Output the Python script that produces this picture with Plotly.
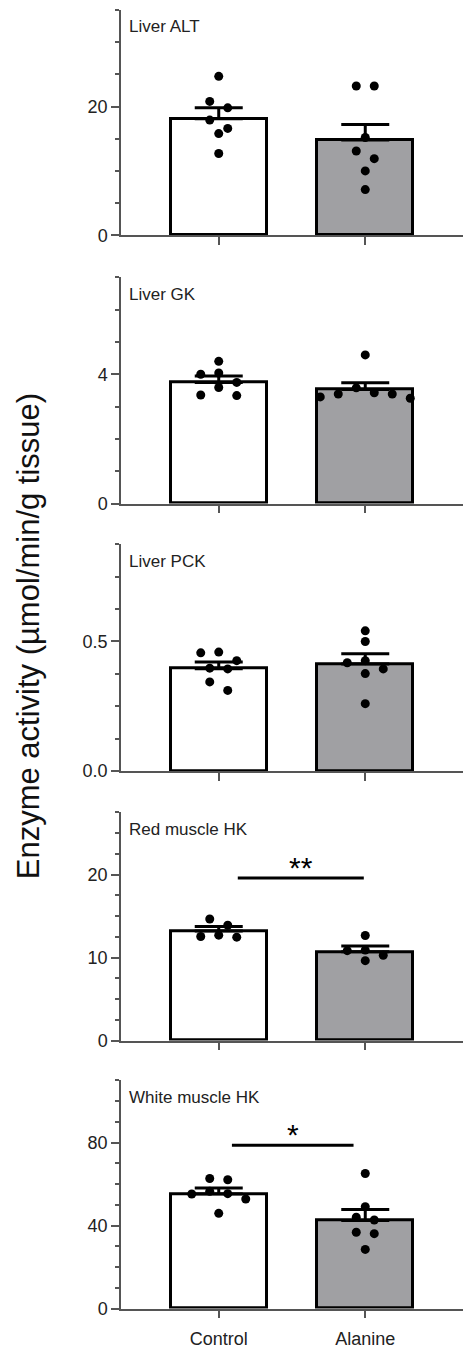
import plotly.graph_objects as go

# ---------------- data ----------------
groups = ["Control", "Alanine"]
panel_titles = ["Liver ALT", "Liver GK", "Liver PCK", "Red muscle HK", "White muscle HK"]

alt_control = [24.7, 20.8, 19.8, 17.9, 16.6, 15.8, 12.7]
alt_alanine = [23.2, 23.2, 15.2, 13.1, 11.9, 10.0, 7.1]
alt_mean = [18.1, 14.8]
alt_sem = [1.7, 2.4]

gk_control = [4.40, 4.04, 4.00, 3.75, 3.59, 3.36, 3.34]
gk_alanine = [4.60, 3.58, 3.43, 3.39, 3.39, 3.30, 3.26]
gk_mean = [3.75, 3.53]
gk_sem = [0.20, 0.21]

pck_control = [0.459, 0.456, 0.426, 0.397, 0.394, 0.344, 0.311]
pck_alanine = [0.541, 0.500, 0.426, 0.418, 0.394, 0.376, 0.260]
pck_mean = [0.395, 0.413]
pck_sem = [0.026, 0.040]

red_control = [14.65, 13.9, 12.7, 12.54, 12.46]
red_alanine = [12.66, 10.9, 10.83, 10.28, 9.63]
red_mean = [13.2, 10.7]
red_sem = [0.55, 0.70]

white_control = [62.7, 62.1, 56.5, 55.4, 55.2, 52.8, 45.9]
white_alanine = [65.1, 49.1, 44.0, 42.7, 36.8, 36.1, 28.5]
white_mean = [55.2, 42.5]
white_sem = [2.9, 5.2]

y_max = [35, 7, 0.875, 27.5, 110]
y_tickvals = [[0, 20], [0, 4], [0, 0.5], [0, 10, 20], [0, 40, 80]]
y_ticktext = [["0", "20"], ["0", "4"], ["0.0", "0.5"], ["0", "10", "20"], ["0", "40", "80"]]
y_minor = [5, 1, 0.125, 2.5, 10]

# significance brackets
sig_panels = [3, 4]
sig_x = [[0.13, 0.99], [0.09, 0.92]]
sig_y = [19.6, 78.7]
sig_text = ["**", "*"]

y_title = "Enzyme activity (µmol/min/g tissue)"

points = [
    [alt_control, alt_alanine],
    [gk_control, gk_alanine],
    [pck_control, pck_alanine],
    [red_control, red_alanine],
    [white_control, white_alanine],
]
means = [alt_mean, gk_mean, pck_mean, red_mean, white_mean]
sems = [alt_sem, gk_sem, pck_sem, red_sem, white_sem]

# ---------------- layout geometry ----------------
W, H = 466, 1353
plot_left, plot_right = 121, 463
panel_px = [(10, 237), (279.3, 507.3), (548.3, 776.7), (818.3, 1048.3), (1088.3, 1318.3)]
x_range = [-0.667, 1.667]
x_ppu = (plot_right - plot_left) / (x_range[1] - x_range[0])

FONT = "Liberation Sans, Arial, sans-serif"
AX = "#555555"
BAR_COLORS = ["#ffffff", "#a0a0a3"]
DOT = 9.0


def swarm_offsets(values, y_ppu, diam=DOT, row_px=10.5):
    """Column-scatter dodge: group vertically overlapping points into rows
    and spread each row symmetrically around the category centre."""
    order = sorted(range(len(values)), key=lambda i: -values[i])
    rows = []
    for i in order:
        if rows and (values[rows[-1][0]] - values[i]) * y_ppu < row_px:
            rows[-1].append(i)
        else:
            rows.append([i])
    offs = [0.0] * len(values)
    for row in rows:
        n = len(row)
        slots = sorted([k - (n - 1) / 2 for k in range(n)], key=lambda s: (abs(s), s))
        for i, s in zip(row, slots):
            offs[i] = s * 2 * diam / x_ppu
    return offs


fig = go.Figure()
layout = {}
annotations = []

for p in range(5):
    suffix = "" if p == 0 else str(p + 1)
    xa, ya = "x" + suffix, "y" + suffix
    top, bot = panel_px[p]
    y_ppu = (bot - top) / y_max[p]
    last = p == 4

    fig.add_trace(go.Bar(
        x=[0, 1], y=means[p], width=0.655,
        marker=dict(color=BAR_COLORS, line=dict(color="black", width=3)),
        error_y=dict(type="data", array=sems[p], arrayminus=[0, 0], symmetric=False,
                     color="black", thickness=3, width=24),
        xaxis=xa, yaxis=ya, showlegend=False, hoverinfo="skip",
    ))
    for g, vals in enumerate(points[p]):
        offs = swarm_offsets(vals, y_ppu)
        fig.add_trace(go.Scatter(
            x=[g + o for o in offs], y=vals, mode="markers",
            marker=dict(size=DOT, color="black", line=dict(width=0)),
            xaxis=xa, yaxis=ya, showlegend=False, hoverinfo="skip",
        ))

    if p in sig_panels:
        k = sig_panels.index(p)
        fig.add_trace(go.Scatter(
            x=sig_x[k], y=[sig_y[k], sig_y[k]], mode="lines",
            line=dict(color="black", width=3),
            xaxis=xa, yaxis=ya, showlegend=False, hoverinfo="skip",
        ))
        annotations.append(dict(
            xref=xa, yref=ya, x=sum(sig_x[k]) / 2, y=sig_y[k], text=sig_text[k],
            showarrow=False, xanchor="center", yanchor="bottom", yshift=-8,
            font=dict(family=FONT, size=30, color="black"),
        ))

    xdict = dict(
        domain=[plot_left / W, plot_right / W], range=x_range, anchor=ya,
        showline=True, linecolor=AX, linewidth=1.5, mirror=False,
        ticks="outside", ticklen=8, tickwidth=1.5, tickcolor=AX,
        tickvals=[0, 1], ticktext=groups, showticklabels=last,
        tickfont=dict(family=FONT, size=18, color="#222"),
        showgrid=False, zeroline=False, fixedrange=True,
    )
    if last:
        xdict["ticklabelstandoff"] = 5
    layout["xaxis" + suffix] = xdict
    layout["yaxis" + suffix] = dict(
        domain=[1 - bot / H, 1 - top / H], range=[0, y_max[p] * 1.0005], anchor=xa,
        showline=True, linecolor=AX, linewidth=1.5,
        ticks="outside", ticklen=8, tickwidth=1.5, tickcolor=AX,
        tickvals=y_tickvals[p], ticktext=y_ticktext[p],
        tickfont=dict(family=FONT, size=18, color="#222"),
        minor=dict(dtick=y_minor[p], tick0=0, ticks="outside", ticklen=4,
                   tickwidth=1.5, tickcolor=AX, showgrid=False),
        showgrid=False, zeroline=False, fixedrange=True,
    )
    annotations.append(dict(
        xref="paper", yref="paper", x=127 / W, y=1 - (top + 17) / H,
        text=panel_titles[p], showarrow=False, xanchor="left", yanchor="middle",
        font=dict(family=FONT, size=17, color="#222"),
    ))

annotations.append(dict(
    xref="paper", yref="paper", x=28 / W, y=1 - 641 / H, text=y_title,
    textangle=-90, showarrow=False, xanchor="center", yanchor="middle",
    font=dict(family=FONT, size=31, color="#111"),
))

fig.update_layout(
    width=W, height=H, margin=dict(l=0, r=0, t=0, b=0),
    paper_bgcolor="white", plot_bgcolor="white",
    bargap=0, annotations=annotations, **layout,
)

fig.write_html("out.html", include_plotlyjs=True, config={"displayModeBar": False})
